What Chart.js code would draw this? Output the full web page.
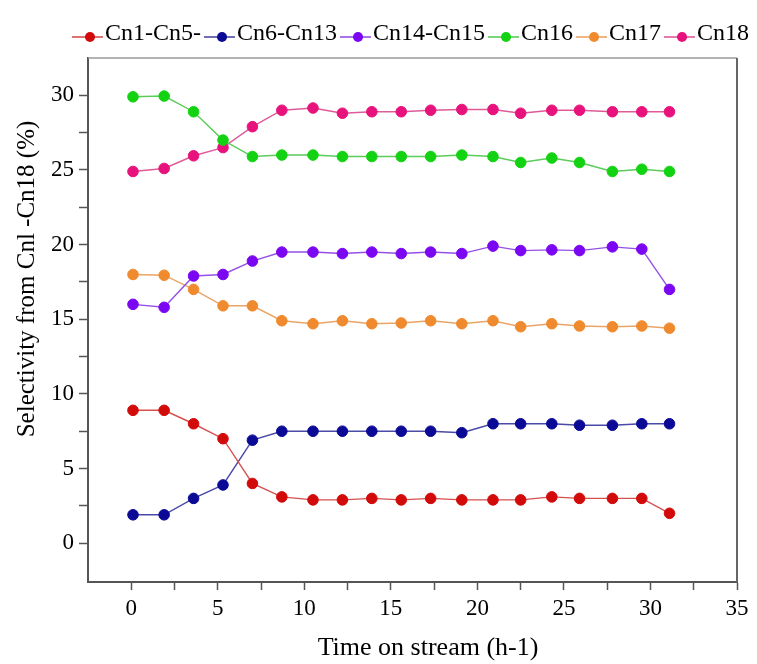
<!DOCTYPE html>
<html>
<head>
<meta charset="utf-8">
<script src="https://cdn.jsdelivr.net/npm/chart.js@4"></script>
<style>
  html, body { margin: 0; padding: 0; background: #fff; }
  #wrap { width: 757px; height: 664px; }
</style>
</head>
<body>
<div id="wrap"><canvas id="myChart" width="757" height="664"></canvas></div>
<script>
// time on stream (x) and selectivity of each fraction (%)
const timeOnStream = [0.1, 1.9, 3.6, 5.3, 7.0, 8.7, 10.5, 12.2, 13.9, 15.6, 17.3, 19.1, 20.9, 22.5, 24.3, 25.9, 27.8, 29.5, 31.1];
const cn1to5   = [8.9, 8.9, 8.0, 7.0, 4.0, 3.1, 2.9, 2.9, 3.0, 2.9, 3.0, 2.9, 2.9, 2.9, 3.1, 3.0, 3.0, 3.0, 2.0];
const cn6to13  = [1.9, 1.9, 3.0, 3.9, 6.9, 7.5, 7.5, 7.5, 7.5, 7.5, 7.5, 7.4, 8.0, 8.0, 8.0, 7.9, 7.9, 8.0, 8.0];
const cn14to15 = [16.0, 15.8, 17.9, 18.0, 18.9, 19.5, 19.5, 19.4, 19.5, 19.4, 19.5, 19.4, 19.9, 19.6, 19.65, 19.6, 19.85, 19.7, 17.0];
const cn16     = [29.9, 29.95, 28.9, 27.0, 25.9, 26.0, 26.0, 25.9, 25.9, 25.9, 25.9, 26.0, 25.9, 25.5, 25.8, 25.5, 24.9, 25.05, 24.9];
const cn17     = [18.0, 17.95, 17.0, 15.9, 15.9, 14.9, 14.7, 14.9, 14.7, 14.75, 14.9, 14.7, 14.9, 14.5, 14.7, 14.55, 14.5, 14.55, 14.4];
const cn18     = [24.9, 25.1, 25.95, 26.5, 27.9, 29.0, 29.15, 28.8, 28.9, 28.9, 29.0, 29.05, 29.05, 28.8, 29.0, 29.0, 28.9, 28.9, 28.9];

const seriesNames = ["Cn1-Cn5-", "Cn6-Cn13", "Cn14-Cn15", "Cn16", "Cn17", "Cn18"];
const xTicks = [0, 2.5, 5, 7.5, 10, 12.5, 15, 17.5, 20, 22.5, 25, 27.5, 30, 32.5, 35];
const yTicks = [0, 2.5, 5, 7.5, 10, 12.5, 15, 17.5, 20, 22.5, 25, 27.5, 30];
const xTitle = "Time on stream (h-1)";
const yTitle = "Selectivity from Cnl -Cn18 (%)";

const serif = "'Liberation Serif', 'Times New Roman', serif";
const pointColors = ["#d20a0a", "#0a0a96", "#7b06f2", "#12d212", "#f08a2e", "#e8127c"];
const lineColors  = ["#d65050", "#4a4aa8", "#9550e6", "#5acc5a", "#eaa466", "#df5a98"];

const allSeries = [cn1to5, cn6to13, cn14to15, cn16, cn17, cn18];

function toPoints(arr) {
  return arr.map((v, i) => ({x: timeOnStream[i], y: v}));
}

const datasets = allSeries.map((arr, i) => ({
  label: seriesNames[i],
  data: toPoints(arr),
  borderColor: lineColors[i],
  backgroundColor: pointColors[i],
  pointBackgroundColor: pointColors[i],
  pointBorderColor: pointColors[i],
  borderWidth: 1.4,
  pointRadius: 5.3,
  pointBorderWidth: 1,
  tension: 0
}));

// frame, axis titles and legend drawn by hand
const framePlugin = {
  id: "frame",
  afterDraw(chart) {
    const ctx = chart.ctx, a = chart.chartArea;
    ctx.save();
    ctx.strokeStyle = "#9a9a9a";
    ctx.lineWidth = 1.5;
    ctx.beginPath();
    ctx.moveTo(a.left, a.top);
    ctx.lineTo(a.right, a.top);
    ctx.stroke();
    ctx.strokeStyle = "#666";
    ctx.lineWidth = 2;
    ctx.beginPath();
    ctx.moveTo(a.right, a.top);
    ctx.lineTo(a.right, a.bottom);
    ctx.stroke();

    // axis titles
    ctx.fillStyle = "#000";
    ctx.textAlign = "center";
    ctx.textBaseline = "middle";
    ctx.font = "26px " + serif;
    ctx.fillText(xTitle, 428, 648);
    ctx.save();
    ctx.translate(27, 279);
    ctx.rotate(-Math.PI / 2);
    ctx.font = "25px " + serif;
    ctx.fillText(yTitle, 0, 0);
    ctx.restore();

    // legend
    ctx.textAlign = "left";
    ctx.font = "24px " + serif;
    let x = 72;
    const y = 34;
    chart.data.datasets.forEach(ds => {
      ctx.strokeStyle = ds.borderColor;
      ctx.lineWidth = 1.6;
      ctx.beginPath();
      ctx.moveTo(x, y + 3);
      ctx.lineTo(x + 31, y + 3);
      ctx.stroke();
      ctx.fillStyle = ds.pointBackgroundColor;
      ctx.beginPath();
      ctx.arc(x + 18, y + 3, 5, 0, Math.PI * 2);
      ctx.fill();
      ctx.fillStyle = "#000";
      ctx.fillText(ds.label, x + 33, y);
      x += 33 + ctx.measureText(ds.label).width + 3;
    });
    ctx.restore();
  }
};

const ctx = document.getElementById("myChart").getContext("2d");

const myChart = new Chart(ctx, {
  type: "line",
  data: { datasets: datasets },
  options: {
    responsive: false,
    animation: false,
    layout: { padding: { top: 58, right: 20, left: 0, bottom: 0 } },
    plugins: {
      legend: { display: false },
      tooltip: { enabled: false }
    },
    scales: {
      x: {
        type: "linear",
        min: -2.5,
        max: 35,
        afterBuildTicks: s => { s.ticks = xTicks.map(v => ({value: v})); },
        afterFit: s => { s.height = 82; },
        ticks: {
          color: "#000",
          font: { family: serif, size: 23 },
          padding: 5,
          maxRotation: 0,
          autoSkip: false,
          callback: v => (v % 5 === 0 ? v : "")
        },
        grid: { drawOnChartArea: false, drawTicks: true, tickLength: 8, color: "#555", tickWidth: 1.5 },
        border: { display: true, color: "#555", width: 2 },
        title: { display: false }
      },
      y: {
        type: "linear",
        min: -2.6,
        max: 32.5,
        afterBuildTicks: s => { s.ticks = yTicks.map(v => ({value: v})); },
        afterFit: s => { s.width = 88; },
        ticks: {
          color: "#000",
          font: { family: serif, size: 23 },
          padding: 5,
          autoSkip: false,
          callback: v => (v % 5 === 0 ? v : "")
        },
        grid: { drawOnChartArea: false, drawTicks: true, tickLength: 9, color: "#555", tickWidth: 1.5 },
        border: { display: true, color: "#555", width: 2 },
        title: { display: false }
      }
    }
  },
  plugins: [framePlugin]
});
</script>
</body>
</html>
